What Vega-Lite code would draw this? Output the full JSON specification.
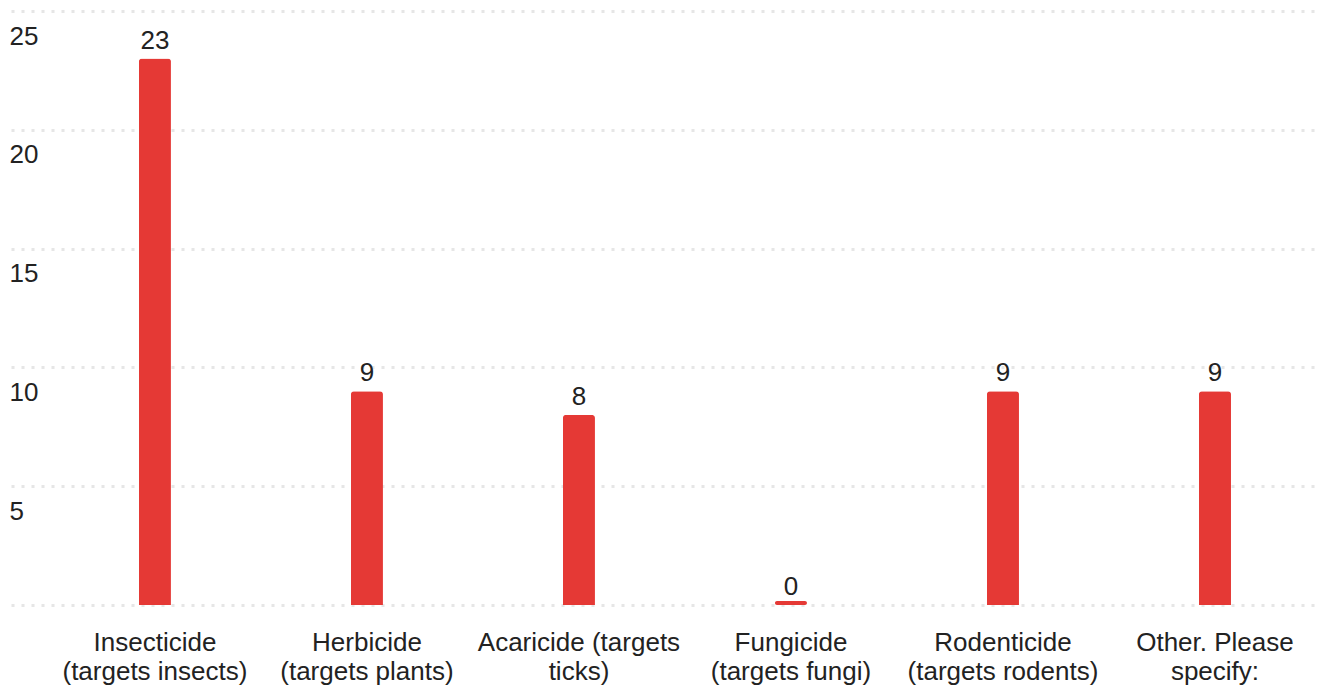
{
  "$schema": "https://vega.github.io/schema/vega-lite/v6.json",
  "autosize": "none",
  "padding": {"left": 11, "top": 11, "right": 6, "bottom": 83},
  "width": 1310,
  "height": 594,
  "background": "white",
  "config": {
    "view": {"stroke": null},
    "font": "Liberation Sans"
  },
  "data": {
    "values": [
      {"category": "Insecticide (targets insects)", "value": 23},
      {"category": "Herbicide (targets plants)", "value": 9},
      {"category": "Acaricide (targets ticks)", "value": 8},
      {"category": "Fungicide (targets fungi)", "value": 0},
      {"category": "Rodenticide (targets rodents)", "value": 9},
      {"category": "Other. Please specify:", "value": 9}
    ]
  },
  "encoding": {
    "x": {
      "field": "category",
      "type": "nominal",
      "sort": null,
      "scale": {"paddingInner": 0.849, "paddingOuter": 0.514, "align": 0.587},
      "axis": {
        "title": null,
        "domain": false,
        "ticks": false,
        "tickSize": 0,
        "labelAngle": 0,
        "labelPadding": 24,
        "labelBaseline": "top",
        "labelFontSize": 26,
        "labelColor": "#222222",
        "labelLineHeight": 29,
        "labelLimit": 400,
        "labelExpr": "datum.value == 'Acaricide (targets ticks)' ? ['Acaricide (targets', 'ticks)'] : datum.value == 'Other. Please specify:' ? ['Other. Please', 'specify:'] : split(replace(datum.value, ' (', '|('), '|')"
      }
    },
    "y": {
      "field": "value",
      "type": "quantitative",
      "scale": {"domain": [0, 25], "nice": false},
      "axis": {
        "title": null,
        "domain": false,
        "ticks": false,
        "tickSize": 0,
        "values": [0, 5, 10, 15, 20, 25],
        "grid": true,
        "gridColor": "#e6e6e6",
        "gridWidth": 3,
        "gridDash": [3, 7],
        "labelAlign": "left",
        "labelPadding": 2,
        "labelBaseline": "alphabetic",
        "labelOffset": 33,
        "labelFontSize": 26,
        "labelColor": "#222222",
        "labelExpr": "datum.value == 0 ? '' : datum.label"
      }
    }
  },
  "layer": [
    {
      "mark": {"type": "bar", "color": "#e53935", "cornerRadiusTopLeft": 3, "cornerRadiusTopRight": 3}
    },
    {
      "transform": [{"filter": "datum.value == 0"}],
      "mark": {"type": "tick", "color": "#e53935", "size": 32, "thickness": 4, "yOffset": -2, "cornerRadius": 2, "opacity": 1}
    },
    {
      "mark": {"type": "text", "baseline": "alphabetic", "dy": -10, "fontSize": 26, "color": "#222222"},
      "encoding": {"text": {"field": "value", "type": "quantitative"}}
    }
  ]
}
